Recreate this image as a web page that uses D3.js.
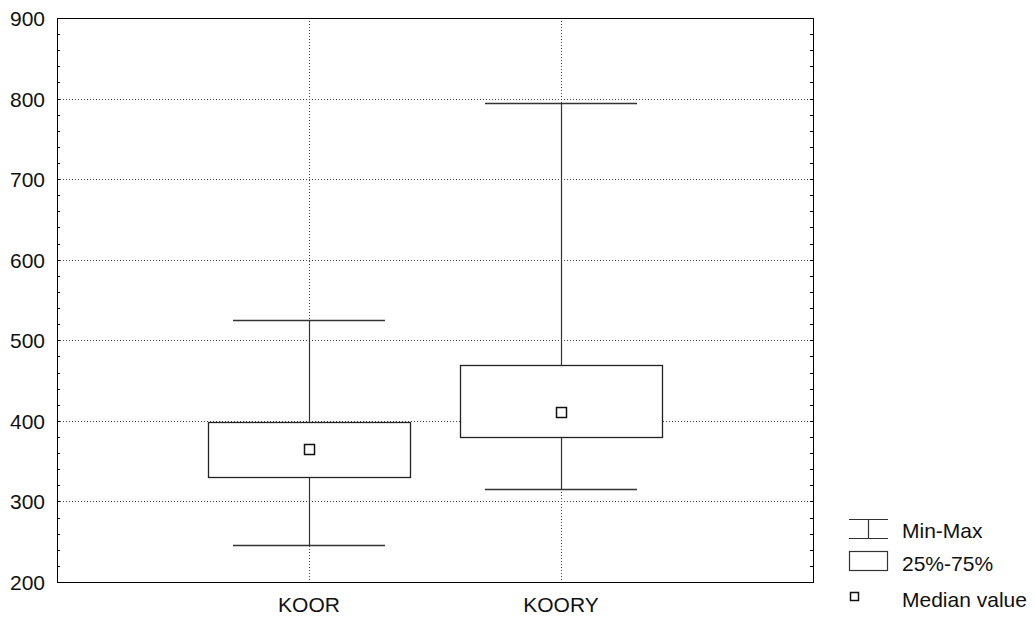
<!DOCTYPE html>
<html>
<head>
<meta charset="utf-8">
<script src="https://cdn.jsdelivr.net/npm/d3@7"></script>
<style>
  html, body { margin: 0; padding: 0; background: #fff; }
  text { font-family: "Liberation Sans", Arial, sans-serif; }
</style>
</head>
<body>
<svg id="chart" width="1035" height="621"></svg>
<script>
// Data
const categories = ["KOOR", "KOORY"];
const minValues = [246, 315];
const q1Values = [330, 380];
const medianValues = [365, 411];
const q3Values = [398, 469];
const maxValues = [525, 794];
const yTicks = [200, 300, 400, 500, 600, 700, 800, 900];
const legendLabels = ["Min-Max", "25%-75%", "Median value"];

const svg = d3.select("#chart");
const margin = { left: 57, top: 18, right: 1035 - 813, bottom: 621 - 582 };
const W = 1035, H = 621;
const x0 = margin.left, x1 = W - margin.right, y0 = margin.top, y1 = H - margin.bottom;
const FS = 21;

const y = d3.scaleLinear().domain([200, 900]).range([y1, y0]);
const x = d3.scalePoint().domain(categories).range([x0, x1]).padding(1);
const step = x.step();
const boxW = step * 0.8;
const capW = step * 0.6;

const data = categories.map((c, i) => ({
  c, min: minValues[i], q1: q1Values[i], med: medianValues[i], q3: q3Values[i], max: maxValues[i]
}));

// Gridlines horizontal
svg.append("g").selectAll("line").data(yTicks.slice(0, -1)).join("line")
  .attr("x1", x0).attr("x2", x1)
  .attr("y1", d => Math.round(y(d)) + 0.5).attr("y2", d => Math.round(y(d)) + 0.5)
  .attr("stroke", "#444").attr("stroke-width", 1).attr("stroke-dasharray", "1,2");

// Vertical gridlines
svg.append("g").selectAll("line").data(categories).join("line")
  .attr("x1", d => Math.round(x(d)) + 0.5).attr("x2", d => Math.round(x(d)) + 0.5)
  .attr("y1", y0).attr("y2", y1)
  .attr("stroke", "#444").attr("stroke-width", 1).attr("stroke-dasharray", "1,2");

// Minor ticks on left and right (inward)
const minor = d3.range(200, 901, 20);
const tg = svg.append("g");
tg.selectAll("line.l").data(minor).join("line").attr("class", "l")
  .attr("x1", x0).attr("x2", x0 + 3)
  .attr("y1", d => Math.round(y(d)) + 0.5).attr("y2", d => Math.round(y(d)) + 0.5)
  .attr("stroke", "#000");
tg.selectAll("line.r").data(minor).join("line").attr("class", "r")
  .attr("x1", x1 - 3).attr("x2", x1)
  .attr("y1", d => Math.round(y(d)) + 0.5).attr("y2", d => Math.round(y(d)) + 0.5)
  .attr("stroke", "#000");

// Boxes
const g = svg.append("g");
data.forEach(d => {
  const cx = Math.round(x(d.c)) + 0.5;
  g.append("line").attr("x1", cx).attr("x2", cx)
    .attr("y1", Math.round(y(d.max)) + 0.5).attr("y2", Math.round(y(d.min)) + 0.5)
    .attr("stroke", "#333").attr("stroke-width", 1.2);
  [d.max, d.min].forEach(v => {
    g.append("line").attr("x1", Math.round(x(d.c) - capW / 2)).attr("x2", Math.round(x(d.c) + capW / 2))
      .attr("y1", Math.round(y(v)) + 0.5).attr("y2", Math.round(y(v)) + 0.5)
      .attr("stroke", "#333").attr("stroke-width", 1.3);
  });
  g.append("rect")
    .attr("x", Math.round(x(d.c) - boxW / 2) + 0.5)
    .attr("y", Math.round(y(d.q3)) + 0.5)
    .attr("width", Math.round(boxW))
    .attr("height", Math.round(y(d.q1)) - Math.round(y(d.q3)))
    .attr("fill", "#fff").attr("stroke", "#222").attr("stroke-width", 1.3);
  g.append("rect")
    .attr("x", Math.round(x(d.c)) - 4.5)
    .attr("y", Math.round(y(d.med)) - 4.5)
    .attr("width", 10).attr("height", 10)
    .attr("fill", "#fff").attr("stroke", "#111").attr("stroke-width", 1.5);
});

// Frame
svg.append("rect").attr("x", x0 + 0.5).attr("y", y0 + 0.5)
  .attr("width", x1 - x0).attr("height", y1 - y0)
  .attr("fill", "none").attr("stroke", "#000").attr("stroke-width", 1);

// Y axis labels
svg.append("g").selectAll("text").data(yTicks).join("text")
  .attr("x", 45).attr("y", d => y(d)).attr("dy", "0.38em")
  .attr("text-anchor", "end").attr("font-size", FS).attr("fill", "#111")
  .text(d => d);

// X labels
svg.append("g").selectAll("text").data(categories).join("text")
  .attr("x", d => x(d)).attr("y", 612)
  .attr("text-anchor", "middle").attr("font-size", FS).attr("fill", "#111")
  .text(d => d);

// Legend
const lg = svg.append("g");
lg.append("line").attr("x1", 849).attr("x2", 888).attr("y1", 519.5).attr("y2", 519.5).attr("stroke", "#333").attr("stroke-width", 1.2);
lg.append("line").attr("x1", 849).attr("x2", 888).attr("y1", 538.5).attr("y2", 538.5).attr("stroke", "#333").attr("stroke-width", 1.2);
lg.append("line").attr("x1", 868.5).attr("x2", 868.5).attr("y1", 519.5).attr("y2", 538.5).attr("stroke", "#333").attr("stroke-width", 1.2);
lg.append("rect").attr("x", 849.5).attr("y", 551.5).attr("width", 38).attr("height", 19)
  .attr("fill", "#fff").attr("stroke", "#333").attr("stroke-width", 1.2);
lg.append("rect").attr("x", 850.5).attr("y", 592.5).attr("width", 8).attr("height", 8)
  .attr("fill", "#fff").attr("stroke", "#111").attr("stroke-width", 1.5);
lg.selectAll("text").data(legendLabels).join("text")
  .attr("x", 902).attr("y", (d, i) => [538, 571, 607][i])
  .attr("font-size", FS).attr("fill", "#111")
  .text(d => d);
</script>
</body>
</html>
